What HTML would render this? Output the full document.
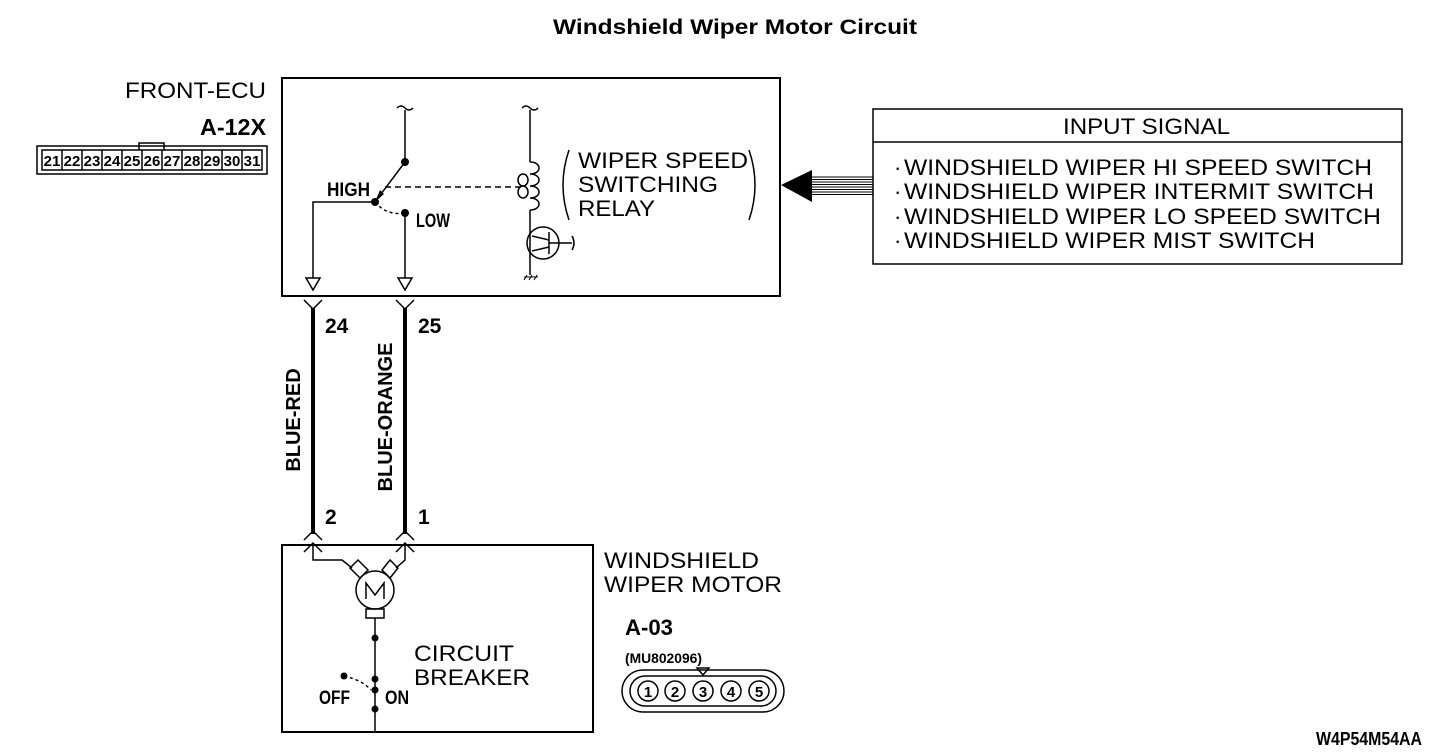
<!DOCTYPE html>
<html><head><meta charset="utf-8"><style>
html,body{margin:0;padding:0;background:#fff;}
svg{display:block;}
text{font-family:"Liberation Sans",sans-serif;fill:#000;}
.c{font-family:"Liberation Sans Narrow","Liberation Sans",sans-serif;font-weight:bold;}
</style></head><body>
<svg width="1456" height="756" viewBox="0 0 1456 756" xmlns="http://www.w3.org/2000/svg">
<text x="553" y="34" font-size="21" font-weight="bold" textLength="364" lengthAdjust="spacingAndGlyphs">Windshield Wiper Motor Circuit</text>

<!-- FRONT-ECU -->
<text x="125" y="98" font-size="22" textLength="141" lengthAdjust="spacingAndGlyphs">FRONT-ECU</text>
<text x="200" y="135" font-size="23" class="c" textLength="66" lengthAdjust="spacingAndGlyphs">A-12X</text>
<g fill="none" stroke="#000" stroke-width="1.5">
<rect x="37" y="146" width="230" height="28"/>
<rect x="42" y="150" width="220" height="20"/>
<polyline points="139,150 139,143 164,143 164,150"/>
</g>
<g font-size="15" class="c" text-anchor="middle">
<text x="52" y="166">21</text><text x="72" y="166">22</text><text x="92" y="166">23</text><text x="112" y="166">24</text><text x="132" y="166">25</text><text x="152" y="166">26</text><text x="172" y="166">27</text><text x="192" y="166">28</text><text x="212" y="166">29</text><text x="232" y="166">30</text><text x="252" y="166">31</text>
</g>
<g stroke="#000" stroke-width="1.5">
<line x1="62" y1="150" x2="62" y2="170"/><line x1="82" y1="150" x2="82" y2="170"/><line x1="102" y1="150" x2="102" y2="170"/><line x1="122" y1="150" x2="122" y2="170"/><line x1="142" y1="150" x2="142" y2="170"/><line x1="162" y1="150" x2="162" y2="170"/><line x1="182" y1="150" x2="182" y2="170"/><line x1="202" y1="150" x2="202" y2="170"/><line x1="222" y1="150" x2="222" y2="170"/><line x1="242" y1="150" x2="242" y2="170"/>
</g>

<!-- ECU box -->
<rect x="282" y="78" width="498" height="218" fill="none" stroke="#000" stroke-width="2"/>
<g fill="none" stroke="#000" stroke-width="1.5">
<path d="M397,108 q4,-4 8,0 q4,4 8,0"/>
<line x1="405" y1="110" x2="405" y2="162"/>
<line x1="405" y1="162" x2="375" y2="202"/>
<polyline points="375,202 313,202 313,278"/>
<polygon points="306,278 320,278 313,290"/>
<path d="M375,202 q12,14 30,11" stroke-dasharray="3,3"/>
<line x1="405" y1="213" x2="405" y2="278"/>
<polygon points="398,278 412,278 405,290"/>
<line x1="385" y1="187" x2="520" y2="187" stroke-dasharray="6,4"/>
<path d="M522,108 q4,-4 8,0 q4,4 8,0"/>
<line x1="530" y1="110" x2="530" y2="162"/>
<path d="M530,162 c12,0 12,12 0,12 M530,174 c12,0 12,12 0,12 M530,186 c12,0 12,12 0,12 M530,198 c12,0 12,12 0,12"/>
<ellipse cx="523" cy="180" rx="5" ry="6"/><ellipse cx="523" cy="192" rx="5" ry="6"/>
<line x1="530" y1="210" x2="530" y2="275"/>
<circle cx="543" cy="243" r="16"/>
<line x1="549" y1="232" x2="549" y2="254"/>
<line x1="549" y1="243" x2="572" y2="243"/>
<path d="M572,236 q4,7 0,14"/>
<line x1="532" y1="236" x2="549" y2="240"/>
<line x1="532" y1="251" x2="549" y2="247"/>
<path d="M569,150 q-12,35 0,70"/>
<path d="M749,150 q12,35 0,70"/>
</g>
<g stroke="#000" stroke-width="1"><line x1="524" y1="277" x2="538" y2="277"/><line x1="524" y1="280" x2="527" y2="275"/><line x1="529" y1="280" x2="532" y2="275"/><line x1="534" y1="280" x2="537" y2="275"/></g>
<circle cx="405" cy="162" r="4"/><circle cx="375" cy="202" r="4"/><circle cx="405" cy="213" r="4"/>
<polygon points="375,202 384,194 380,190"/>
<text x="327" y="196" font-size="19" class="c" textLength="43" lengthAdjust="spacingAndGlyphs">HIGH</text>
<text x="416" y="227" font-size="19" class="c" textLength="34" lengthAdjust="spacingAndGlyphs">LOW</text>
<text x="578" y="168" font-size="22" textLength="170" lengthAdjust="spacingAndGlyphs">WIPER SPEED</text>
<text x="578" y="192" font-size="22" textLength="140" lengthAdjust="spacingAndGlyphs">SWITCHING</text>
<text x="578" y="216" font-size="22" textLength="77" lengthAdjust="spacingAndGlyphs">RELAY</text>

<!-- arrow -->
<polygon points="781,185 812,170 812,202" fill="#000"/>
<g stroke="#000" stroke-width="1">
<line x1="812" y1="177" x2="873" y2="177"/><line x1="812" y1="179.5" x2="873" y2="179.5"/><line x1="812" y1="182" x2="873" y2="182"/><line x1="812" y1="184.5" x2="873" y2="184.5"/><line x1="812" y1="187" x2="873" y2="187"/><line x1="812" y1="189.5" x2="873" y2="189.5"/><line x1="812" y1="192" x2="873" y2="192"/><line x1="812" y1="194.5" x2="873" y2="194.5"/>
</g>

<!-- input signal box -->
<rect x="873" y="109" width="529" height="155" fill="none" stroke="#000" stroke-width="1.5"/>
<line x1="873" y1="142" x2="1402" y2="142" stroke="#000" stroke-width="1.5"/>
<text x="1063" y="134" font-size="22" textLength="167" lengthAdjust="spacingAndGlyphs">INPUT SIGNAL</text>
<g font-size="22">
<text x="894" y="175">·</text><text x="904" y="175" textLength="468" lengthAdjust="spacingAndGlyphs">WINDSHIELD WIPER HI SPEED SWITCH</text>
<text x="894" y="199">·</text><text x="904" y="199" textLength="470" lengthAdjust="spacingAndGlyphs">WINDSHIELD WIPER INTERMIT SWITCH</text>
<text x="894" y="224">·</text><text x="904" y="224" textLength="477" lengthAdjust="spacingAndGlyphs">WINDSHIELD WIPER LO SPEED SWITCH</text>
<text x="894" y="248">·</text><text x="904" y="248" textLength="411" lengthAdjust="spacingAndGlyphs">WINDSHIELD WIPER MIST SWITCH</text>
</g>

<!-- wires -->
<g stroke="#000" fill="none">
<line x1="313" y1="308" x2="313" y2="534" stroke-width="4"/>
<line x1="405" y1="308" x2="405" y2="534" stroke-width="4"/>
<g stroke-width="1.5">
<polyline points="304,300 313,309 322,300"/><polyline points="396,300 405,309 414,300"/>
<polyline points="304,540 313,531 322,540"/><polyline points="396,540 405,531 414,540"/>
<polyline points="304,552 313,543 322,552"/><polyline points="396,552 405,543 414,552"/>
</g>
</g>
<text x="325" y="333" font-size="21" class="c">24</text>
<text x="418" y="333" font-size="21" class="c">25</text>
<text x="325" y="524" font-size="21" class="c">2</text>
<text x="418" y="524" font-size="21" class="c">1</text>
<text transform="translate(300,420) rotate(-90)" font-size="20" class="c" text-anchor="middle">BLUE-RED</text>
<text transform="translate(392,417) rotate(-90)" font-size="20" class="c" text-anchor="middle">BLUE-ORANGE</text>

<!-- motor box -->
<rect x="282" y="545" width="311" height="187" fill="none" stroke="#000" stroke-width="2"/>
<g fill="none" stroke="#000" stroke-width="1.5">
<polyline points="313,545 313,560 342,560 352,568"/>
<polyline points="405,545 405,560 396,568"/>
<polygon points="350,568 358,560 368,570 360,578"/>
<polygon points="390,560 398,568 390,578 382,570"/>
<circle cx="375" cy="590" r="19"/>
<polyline points="366,599 366,583 375,595 384,583 384,599"/>
<rect x="366" y="609" width="18" height="9"/>
<line x1="375" y1="618" x2="375" y2="732"/>
<path d="M344,676 q18,4 27,14" stroke-dasharray="3,3"/>
</g>
<circle cx="375" cy="638" r="3.5"/><circle cx="375" cy="679" r="3.5"/><circle cx="375" cy="690" r="3.5"/><circle cx="375" cy="709" r="3.5"/><circle cx="344" cy="676" r="3.5"/>
<text x="414" y="661" font-size="22" textLength="100" lengthAdjust="spacingAndGlyphs">CIRCUIT</text>
<text x="414" y="685" font-size="22" textLength="116" lengthAdjust="spacingAndGlyphs">BREAKER</text>
<text x="319" y="704" font-size="19" class="c" textLength="31" lengthAdjust="spacingAndGlyphs">OFF</text>
<text x="385" y="704" font-size="19" class="c" textLength="24" lengthAdjust="spacingAndGlyphs">ON</text>

<text x="604" y="568" font-size="22" textLength="155" lengthAdjust="spacingAndGlyphs">WINDSHIELD</text>
<text x="604" y="592" font-size="22" textLength="178" lengthAdjust="spacingAndGlyphs">WIPER MOTOR</text>
<text x="625" y="635" font-size="22" class="c" textLength="48" lengthAdjust="spacingAndGlyphs">A-03</text>
<text x="625" y="663" font-size="14" class="c" textLength="77" lengthAdjust="spacingAndGlyphs">(MU802096)</text>
<g fill="none" stroke="#000" stroke-width="1.5">
<rect x="622" y="670" width="162" height="42" rx="21"/>
<rect x="630" y="676" width="146" height="30" rx="15"/>
<circle cx="648" cy="691" r="10"/><circle cx="675" cy="691" r="10"/><circle cx="703" cy="691" r="10"/><circle cx="731" cy="691" r="10"/><circle cx="759" cy="691" r="10"/>
<polygon points="697,668 709,668 703,675"/>
</g>
<g font-size="15" class="c" text-anchor="middle">
<text x="648" y="697">1</text><text x="675" y="697">2</text><text x="703" y="697">3</text><text x="731" y="697">4</text><text x="759" y="697">5</text>
</g>
<text x="1316" y="745" font-size="18" class="c" textLength="106" lengthAdjust="spacingAndGlyphs">W4P54M54AA</text>
</svg>
</body></html>
